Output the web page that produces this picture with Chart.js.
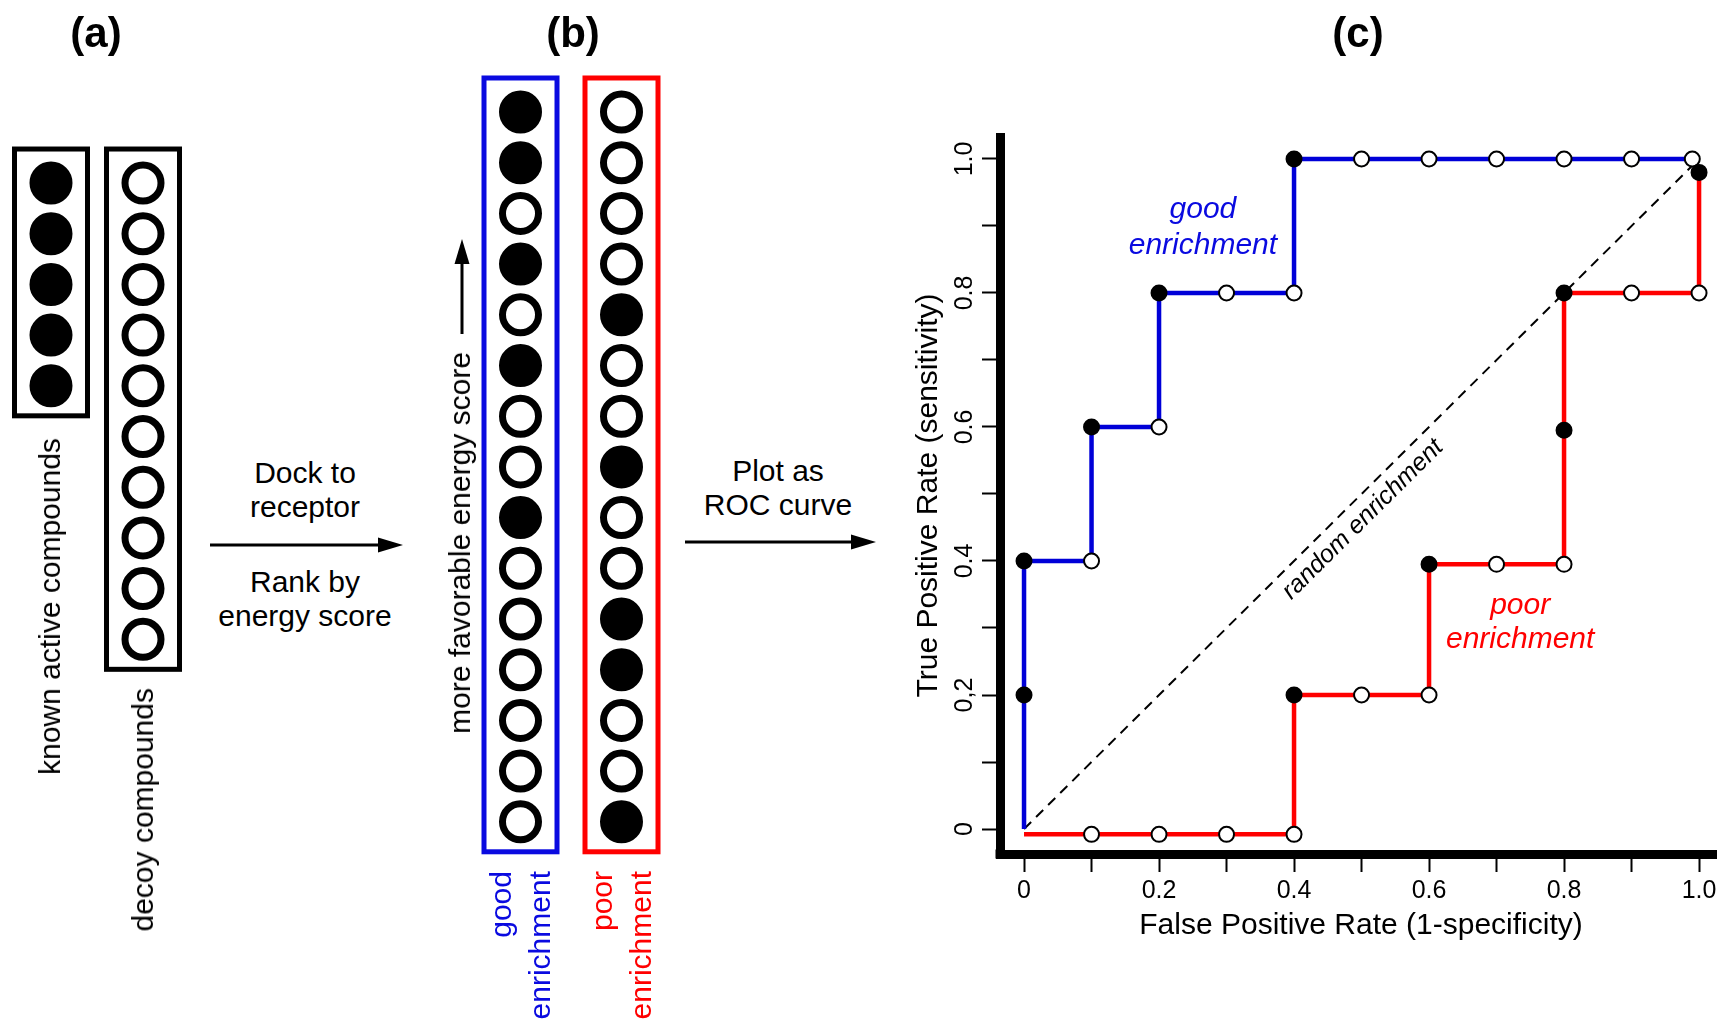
<!DOCTYPE html>
<html>
<head>
<meta charset="utf-8">
<script src="https://cdn.jsdelivr.net/npm/chart.js@4.4.1/dist/chart.umd.min.js"></script>
<style>
  html, body { margin: 0; padding: 0; width: 1717px; height: 1022px; overflow: hidden; background: #fff; }
  body { position: relative; font-family: 'Liberation Sans', Arial, sans-serif; color: #000; }
  canvas { position: absolute; top: 0; }
  .txt { position: absolute; white-space: nowrap; font-size: 30px; }
  .hdr { position: absolute; top: 12px; font-weight: bold; font-size: 42px; line-height: 42px; transform: translateX(-50%); }
  .ctr { text-align: center; line-height: 34px; transform: translateX(-50%); }
  .rot { line-height: 34px; text-align: right; transform-origin: 0 0; transform: rotate(-90deg) translate(-100%, -50%); }
  .rot2 { line-height: 39px; }
  .blue { color: #0a0ae0; }
  .red { color: #ff0000; }
  svg { position: absolute; left: 0; top: 0; }
</style>
</head>
<body>
<canvas id="chartA" width="184" height="1022" style="left:5px;width:184px;height:1022px"></canvas>
<canvas id="chartB" width="202" height="1022" style="left:470px;width:202px;height:1022px"></canvas>
<canvas id="chartC" width="842" height="1022" style="left:880px;width:842px;height:1022px"></canvas>

<div class="hdr" style="left:96px">(a)</div>
<div class="hdr" style="left:573px">(b)</div>
<div class="hdr" style="left:1358px">(c)</div>

<div class="txt rot" style="left:50px;top:438px">known active compounds</div>
<div class="txt rot" style="left:143px;top:688px">decoy compounds</div>
<div class="txt rot" style="left:460px;top:352px">more favorable energy score</div>
<div class="txt rot rot2 blue" style="left:520px;top:871px">good<br>enrichment</div>
<div class="txt rot rot2 red" style="left:621px;top:871px">poor<br>enrichment</div>

<div class="txt ctr" style="left:305px;top:456px">Dock to<br>receptor</div>
<div class="txt ctr" style="left:305px;top:565px">Rank by<br>energy score</div>
<div class="txt ctr" style="left:778px;top:454px">Plot as<br>ROC curve</div>

<svg width="1717" height="1022">
  <g stroke="#000" stroke-width="3" fill="#000">
    <line x1="210" y1="545" x2="382" y2="545"/>
    <polygon points="403,545 378,537.5 378,552.5" stroke="none"/>
    <line x1="685" y1="542" x2="855" y2="542"/>
    <polygon points="876,542 851,534.5 851,549.5" stroke="none"/>
    <line x1="462" y1="334" x2="462" y2="260"/>
    <polygon points="462,239 454.5,264 469.5,264" stroke="none"/>
  </g>
</svg>

<script>
// (a) starting sets, (b) ranked lists: 1 = known active, 0 = decoy
const activeHits = [1, 1, 1, 1, 1];
const decoyHits = [0, 0, 0, 0, 0, 0, 0, 0, 0, 0];
const goodHits = [1, 1, 0, 1, 0, 1, 0, 0, 1, 0, 0, 0, 0, 0, 0];
const poorHits = [0, 0, 0, 0, 1, 0, 0, 1, 0, 0, 1, 1, 0, 0, 1];

// (c) ROC curves
const goodFpr = [0, 0, 0, 0.1, 0.1, 0.2, 0.2, 0.3, 0.4, 0.4, 0.5, 0.6, 0.7, 0.8, 0.9, 0.99];
const goodTpr = [0, 0.2, 0.4, 0.4, 0.6, 0.6, 0.8, 0.8, 0.8, 1.0, 1.0, 1.0, 1.0, 1.0, 1.0, 1.0];
const goodMark = [null, 1, 1, 0, 1, 0, 1, 0, 0, 1, 0, 0, 0, 0, 0, 0];

const poorFpr = [0, 0.1, 0.2, 0.3, 0.4, 0.4, 0.5, 0.6, 0.6, 0.7, 0.8, 0.8, 0.8, 0.9, 1.0, 1.0];
const poorTpr = [-0.008, -0.008, -0.008, -0.008, -0.008, 0.2, 0.2, 0.2, 0.395, 0.395, 0.395, 0.595, 0.8, 0.8, 0.8, 0.98];
const poorMark = [null, 0, 0, 0, 0, 1, 0, 0, 1, 0, 0, 1, 1, 0, 0, 1];

const randomFpr = [0, 1];
const randomTpr = [0, 1];

const xTickValues = [0, 0.1, 0.2, 0.3, 0.4, 0.5, 0.6, 0.7, 0.8, 0.9, 1.0];
const xTickLabels = ['0', '', '0.2', '', '0.4', '', '0.6', '', '0.8', '', '1.0'];
const yTickValues = [0, 0.1, 0.2, 0.3, 0.4, 0.5, 0.6, 0.7, 0.8, 0.9, 1.0];
const yTickLabels = ['0', '', '0,2', '', '0.4', '', '0.6', '', '0.8', '', '1.0'];

const BLUE = '#0a0ae0';
const LINE_BLUE = '#0000d8';
const RED = '#ff0000';
const FONT = "'Liberation Sans', Arial, sans-serif";

// ---------- panels (a) and (b): columns of compounds ----------
function columnDataset(hits, col) {
  return {
    data: hits.map((h, r) => ({ x: col, y: r })),
    showLine: false,
    pointRadius: 18,
    pointBorderWidth: 7,
    pointBorderColor: '#000',
    pointBackgroundColor: hits.map(h => h ? '#000' : '#fff'),
    clip: false
  };
}

const boxPlugin = {
  id: 'boxes',
  beforeDatasetsDraw(chart, args, opts) {
    const { ctx } = chart;
    const xs = chart.scales.x, ys = chart.scales.y;
    chart.data.datasets.forEach((ds, i) => {
      const cx = xs.getPixelForValue(i);
      const top = ys.getPixelForValue(0) - 34;
      const bottom = ys.getPixelForValue(ds.data.length - 1) + 30;
      ctx.save();
      ctx.strokeStyle = opts.colors[i];
      ctx.lineWidth = 5;
      ctx.strokeRect(cx - 36.5, top, 73, bottom - top);
      ctx.restore();
    });
  }
};

function columnChart(id, datasets, yMin, yMax, colors) {
  return new Chart(document.getElementById(id), {
    type: 'line',
    data: { datasets },
    options: {
      responsive: false,
      animation: false,
      layout: { padding: 0, autoPadding: false },
      plugins: { legend: { display: false }, tooltip: { enabled: false }, boxes: { colors } },
      scales: {
        x: { type: 'linear', display: false, min: -0.5, max: 1.5 },
        y: { type: 'linear', display: false, reverse: true, min: yMin, max: yMax }
      }
    },
    plugins: [boxPlugin]
  });
}

// 50.7 px per rank over a 1022 px tall canvas
columnChart('chartA', [columnDataset(activeHits, 0), columnDataset(decoyHits, 1)], -3.61, 16.548, ['#000', '#000']);
columnChart('chartB', [columnDataset(goodHits, 0), columnDataset(poorHits, 1)], -2.209, 17.949, [BLUE, RED]);

// ---------- panel (c): ROC plot ----------
function rocPoints(fpr, tpr) {
  return fpr.map((x, i) => ({ x, y: tpr[i] }));
}

function rocDataset(fpr, tpr, marks, color, order) {
  return {
    data: rocPoints(fpr, tpr),
    borderColor: color,
    borderWidth: 4.5,
    tension: 0,
    pointRadius: marks.map(m => m === null ? 0 : 7.5),
    pointBorderWidth: 2,
    pointBorderColor: '#000',
    pointBackgroundColor: marks.map(m => m === 1 ? '#000' : '#fff'),
    order,
    clip: false
  };
}

const notesPlugin = {
  id: 'notes',
  afterDatasetsDraw(chart) {
    const { ctx } = chart;
    const xs = chart.scales.x, ys = chart.scales.y;
    const px = v => xs.getPixelForValue(v), py = v => ys.getPixelForValue(v);
    ctx.save();
    ctx.textAlign = 'center';
    ctx.textBaseline = 'middle';
    ctx.font = 'italic 30px ' + FONT;
    ctx.fillStyle = BLUE;
    ctx.fillText('good', px(0.265), py(0.924));
    ctx.fillText('enrichment', px(0.265), py(0.870));
    ctx.fillStyle = RED;
    ctx.fillText('poor', px(0.735), py(0.334));
    ctx.fillText('enrichment', px(0.735), py(0.282));
    // label along the diagonal
    const ang = Math.atan2(py(1) - py(0), px(1) - px(0));
    ctx.translate(px(0.502), py(0.462));
    ctx.rotate(ang);
    ctx.fillStyle = '#000';
    ctx.font = 'italic 25px ' + FONT;
    ctx.fillText('random enrichment', 0, 0);
    ctx.restore();
  },
  afterDraw(chart) {
    // square off the corner where the two thick axis lines meet
    const { ctx, chartArea } = chart;
    ctx.save();
    ctx.fillStyle = '#000';
    ctx.fillRect(chartArea.left - 4.5, chartArea.bottom - 4.5, 9, 9);
    ctx.restore();
  }
};

const axisGrid = { display: true, drawOnChartArea: false, drawTicks: true, tickLength: 18, tickWidth: 2, tickColor: '#000' };
const axisBorder = { display: true, width: 9, color: '#000' };

new Chart(document.getElementById('chartC'), {
  type: 'line',
  data: {
    datasets: [
      rocDataset(poorFpr, poorTpr, poorMark, RED, 1),
      rocDataset(goodFpr, goodTpr, goodMark, LINE_BLUE, 2),
      {
        data: rocPoints(randomFpr, randomTpr),
        borderColor: '#000',
        borderWidth: 2,
        borderDash: [10, 7],
        pointRadius: 0,
        order: 3
      }
    ]
  },
  options: {
    responsive: false,
    animation: false,
    layout: { padding: { left: 0, top: 137, right: 0, bottom: 0 }, autoPadding: false },
    plugins: { legend: { display: false }, tooltip: { enabled: false } },
    scales: {
      x: {
        type: 'linear',
        min: -0.0356,
        max: 1.034,
        afterBuildTicks: s => { s.ticks = xTickValues.map(v => ({ value: v })); },
        afterFit: s => { s.height = 168; },
        grid: axisGrid,
        border: axisBorder,
        ticks: {
          autoSkip: false, maxRotation: 0, padding: 4, color: '#000',
          font: { family: FONT, size: 25 },
          callback: (v, i) => xTickLabels[i]
        },
        title: {
          display: true, text: 'False Positive Rate (1-specificity)', color: '#000',
          font: { family: FONT, size: 30 }, padding: { top: 0, bottom: 78 }
        }
      },
      y: {
        type: 'linear',
        min: -0.0373,
        max: 1.0328,
        afterBuildTicks: s => { s.ticks = yTickValues.map(v => ({ value: v })); },
        afterFit: s => { s.width = 120; },
        grid: axisGrid,
        border: axisBorder,
        ticks: {
          autoSkip: false, minRotation: 90, maxRotation: 90, crossAlign: 'center', padding: 0, color: '#000',
          font: { family: FONT, size: 25 },
          callback: (v, i) => yTickLabels[i]
        },
        title: {
          display: true, text: 'True Positive Rate (sensitivity)', color: '#000',
          font: { family: FONT, size: 30 }, padding: { top: 31, bottom: 0 }
        }
      }
    }
  },
  plugins: [notesPlugin]
});
</script>
</body>
</html>
